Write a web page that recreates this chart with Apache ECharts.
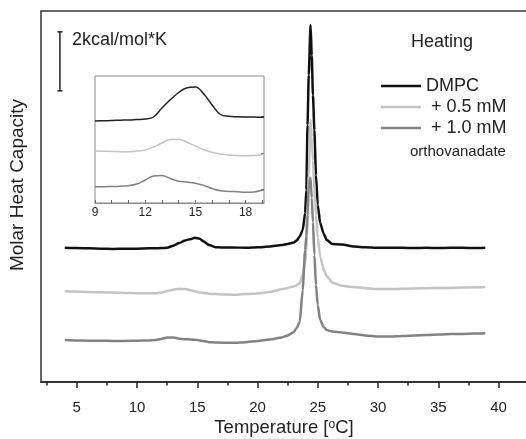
<!DOCTYPE html>
<html>
<head>
<meta charset="utf-8">
<script src="https://cdn.jsdelivr.net/npm/echarts@6/dist/echarts.min.js"></script>
<style>
  html, body { margin: 0; background: #fff; }
  #chart { width: 526px; height: 439px; }
</style>
</head>
<body>
<div id="chart"></div>
<script>
  // main thermograms, Cp in kcal/mol*K with the vertical offsets as plotted
  const temps = [4, 5, 6, 7, 8, 9, 10, 11, 11.5, 12, 12.5, 13, 13.5, 14, 14.5, 14.8, 15.2, 15.5,
    16, 16.5, 17, 18, 19, 20, 21, 22, 22.5, 23, 23.25, 23.5, 23.75, 23.95, 24.05, 24.15, 24.25,
    24.4, 24.5, 24.6, 24.72, 24.85, 25, 25.2, 25.5, 25.75, 26.2, 27, 28, 29, 30, 31, 32, 33, 34,
    35, 36, 37, 38, 38.9];
  const dmpc = [4.55, 4.54, 4.53, 4.52, 4.51, 4.52, 4.52, 4.53, 4.53, 4.54, 4.55, 4.62, 4.71, 4.80,
    4.85, 4.89, 4.86, 4.77, 4.64, 4.57, 4.56, 4.56, 4.55, 4.57, 4.59, 4.64, 4.68, 4.73, 4.80, 4.93,
    5.15, 5.73, 6.51, 8.71, 10.41, 12.10, 11.08, 9.73, 8.54, 7.02, 6.00, 5.39, 5.02, 4.81, 4.68,
    4.66, 4.59, 4.57, 4.55, 4.55, 4.55, 4.54, 4.55, 4.54, 4.55, 4.55, 4.54, 4.55];
  const vanadate05 = [3.08, 3.07, 3.05, 3.04, 3.03, 3.02, 3.01, 3.01, 3.01, 3.03, 3.08, 3.13, 3.16,
    3.15, 3.11, 3.08, 3.04, 3.02, 2.99, 2.98, 2.97, 2.96, 2.98, 3.00, 3.05, 3.14, 3.19, 3.24, 3.28,
    3.35, 3.63, 4.07, 4.41, 5.49, 7.02, 8.88, 8.30, 7.50, 6.51, 5.66, 4.88, 4.25, 3.80, 3.59, 3.37,
    3.26, 3.22, 3.18, 3.15, 3.15, 3.16, 3.17, 3.18, 3.19, 3.19, 3.20, 3.21, 3.22];
  const vanadate10 = [1.42, 1.41, 1.40, 1.40, 1.39, 1.39, 1.40, 1.41, 1.42, 1.46, 1.51, 1.51, 1.47,
    1.45, 1.44, 1.43, 1.41, 1.39, 1.35, 1.34, 1.33, 1.33, 1.35, 1.39, 1.44, 1.51, 1.58, 1.69, 1.83,
    2.03, 3.12, 4.47, 4.95, 5.66, 6.68, 6.92, 6.24, 5.42, 4.31, 3.29, 2.61, 2.10, 1.86, 1.76, 1.71,
    1.68, 1.63, 1.58, 1.54, 1.54, 1.56, 1.58, 1.59, 1.61, 1.63, 1.63, 1.64, 1.65];

  // inset: pretransition region, enlarged (arbitrary units)
  const insetTemps = [9, 9.5, 10, 10.5, 11, 11.5, 12, 12.5, 13, 13.5, 14, 14.5, 15, 15.5, 16, 16.5,
    17, 17.5, 18, 18.5, 19, 19.1];
  const insetDmpc = [82, 82.2, 82.5, 82.8, 83, 83.5, 84, 86, 95.1, 103.2, 110.5, 115.2, 115.9, 109,
    98, 88.5, 86.7, 86.3, 86.1, 86, 85.7, 85.7];
  const insetV05 = [52, 51.8, 51.5, 51.3, 51.3, 51.8, 53, 56, 60, 63.5, 63.7, 60.7, 57, 53.3, 50.7,
    49, 48, 47.5, 47.3, 47.5, 48.5, 48.7];
  const insetV10 = [16.3, 16.3, 16.5, 16.8, 17.3, 19, 23, 27, 27.5, 24.5, 21.7, 21, 19.8, 17.6,
    14.5, 12.2, 11.6, 11.2, 10.7, 11, 12.7, 13];

  const seriesNames = ['DMPC', ' + 0.5 mM', ' + 1.0 mM'];
  const xTicks = [5, 10, 15, 20, 25, 30, 35, 40];
  const xMinorTicks = [2.5, 7.5, 12.5, 17.5, 22.5, 27.5, 32.5, 37.5, 42.5];
  const insetLabels = [9, 12, 15, 18];
  const insetTicks = [9, 10, 11, 12, 13, 14, 15, 16, 17, 18, 19];
  const insetYTicks = [13.3, 49.7, 86.3];
  // 2 kcal/mol*K scale bar
  const scaleBarT = [3.6, 3.6];
  const scaleBarCp = [9.87, 11.87];

  const font = '"Liberation Sans", Arial, sans-serif';
  const pairs = (xs, ys) => xs.map((x, i) => [x, ys[i]]);

  const chart = echarts.init(document.getElementById('chart'));

  const mainLine = (name, data, color) => ({
    name,
    type: 'line',
    xAxisIndex: 0,
    yAxisIndex: 0,
    data: pairs(temps, data),
    symbol: 'none',
    smooth: 0.2,
    smoothMonotone: 'x',
    lineStyle: { color, width: 2.5 },
    itemStyle: { color },
  });
  const insetLine = (data, color) => ({
    type: 'line',
    xAxisIndex: 2,
    yAxisIndex: 1,
    data: pairs(insetTemps, data),
    symbol: 'none',
    smooth: 0.4,
    lineStyle: { color, width: 1.5 },
    silent: true,
  });

  const option = {
    animation: false,
    backgroundColor: '#fff',
    grid: [
      { left: 41, top: 11, right: -6, bottom: 57, show: true, borderColor: '#333', borderWidth: 1.5,
        outerBoundsMode: 'none' },
      { left: 95, top: 76, width: 169, height: 127, show: true, borderColor: '#8a8a8a', borderWidth: 1,
        outerBoundsMode: 'none' },
    ],
    xAxis: [
      {
        type: 'value', gridIndex: 0, min: 2.03, max: 42.78, position: 'bottom',
        axisLine: { lineStyle: { color: '#222', width: 1.5 } },
        axisTick: { customValues: xTicks, length: 6, lineStyle: { color: '#222', width: 1.5 } },
        axisLabel: { customValues: xTicks, fontSize: 15, fontFamily: font, color: '#222', margin: 18 },
        splitLine: { show: false },
      },
      {
        type: 'value', gridIndex: 0, min: 2.03, max: 42.78, position: 'bottom',
        axisLine: { show: false },
        axisTick: { customValues: xMinorTicks, length: 3.5, lineStyle: { color: '#222', width: 1.5 } },
        axisLabel: { show: false },
        splitLine: { show: false },
      },
      {
        type: 'value', gridIndex: 1, min: 9, max: 19.1,
        axisLine: { lineStyle: { color: '#8a8a8a' } },
        axisTick: { customValues: insetTicks, inside: true, length: 3, lineStyle: { color: '#666' } },
        axisLabel: { customValues: insetLabels, fontSize: 12, fontFamily: font, color: '#222', margin: 4 },
        splitLine: { show: false },
      },
    ],
    yAxis: [
      { type: 'value', gridIndex: 0, min: 0, max: 12.576, show: false },
      {
        type: 'value', gridIndex: 1, min: 0, max: 127, position: 'right',
        axisLine: { show: false },
        axisTick: { customValues: insetYTicks, inside: true, length: 3, lineStyle: { color: '#666' } },
        axisLabel: { show: false },
        splitLine: { show: false },
      },
    ],
    legend: {
      data: seriesNames,
      orient: 'vertical',
      left: 381,
      top: 77,
      padding: 0,
      icon: 'rect',
      itemWidth: 40,
      itemHeight: 2.5,
      itemGap: 3,
      textStyle: { fontSize: 18, fontFamily: font, color: '#222', lineHeight: 18 },
      selectedMode: false,
    },
    graphic: [
      {
        type: 'text', x: 72, y: 40,
        style: { text: '2kcal/mol*K', font: '18px ' + font, fill: '#222',
          textAlign: 'left', textVerticalAlign: 'middle' },
      },
      {
        type: 'text', x: 411, y: 42,
        style: { text: 'Heating', font: '18px ' + font, fill: '#222',
          textAlign: 'left', textVerticalAlign: 'middle' },
      },
      {
        type: 'text', x: 410, y: 152,
        style: { text: 'orthovanadate', font: '15px ' + font, fill: '#222',
          textAlign: 'left', textVerticalAlign: 'middle' },
      },
      {
        type: 'text', x: 18, y: 185, rotation: Math.PI / 2,
        style: { text: 'Molar Heat Capacity', font: '19px ' + font, fill: '#222',
          textAlign: 'center', textVerticalAlign: 'middle' },
      },
      {
        type: 'text', x: 284, y: 428,
        style: {
          text: 'Temperature [{sup|o}C]', font: '18.5px ' + font, fill: '#222',
          textAlign: 'center', textVerticalAlign: 'middle',
          rich: { sup: { fontSize: 12, fontFamily: font, fill: '#222', verticalAlign: 'top' } },
        },
      },
    ],
    series: [
      mainLine(seriesNames[0], dmpc, '#111'),
      mainLine(seriesNames[1], vanadate05, '#c4c4c4'),
      mainLine(seriesNames[2], vanadate10, '#828282'),
      insetLine(insetDmpc, '#222'),
      insetLine(insetV05, '#c4c4c4'),
      insetLine(insetV10, '#828282'),
      {
        type: 'line',
        xAxisIndex: 0,
        yAxisIndex: 0,
        data: pairs(scaleBarT, scaleBarCp),
        symbol: 'rect',
        symbolSize: [5, 1.5],
        lineStyle: { color: '#222', width: 1.5 },
        itemStyle: { color: '#222' },
        silent: true,
      },
    ],
  };

  chart.setOption(option);
</script>
</body>
</html>
